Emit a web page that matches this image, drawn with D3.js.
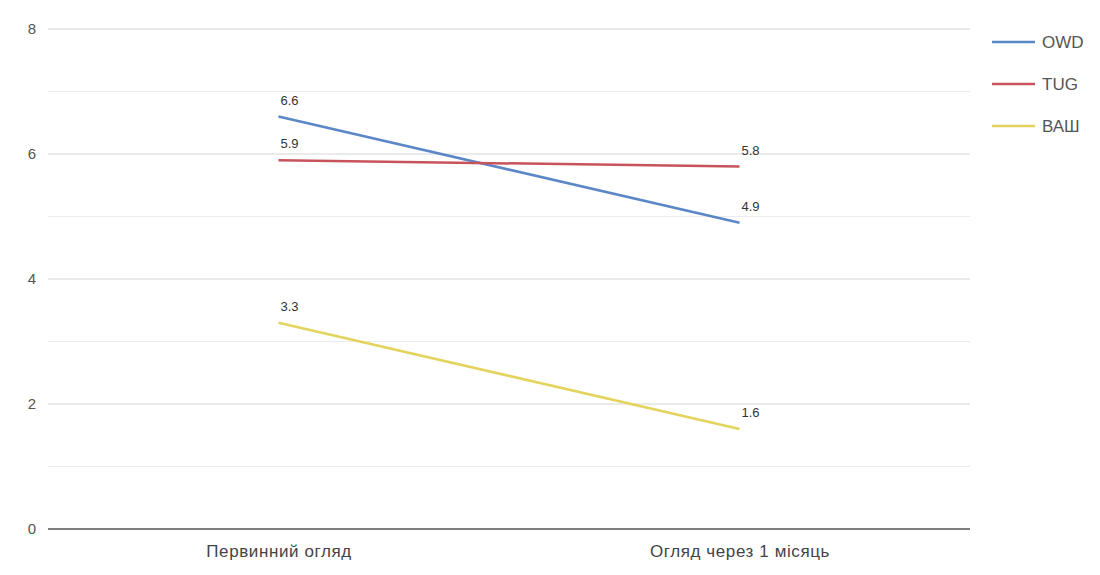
<!DOCTYPE html>
<html>
<head>
  <meta charset="utf-8">
  <script src="https://d3js.org/d3.v7.min.js"></script>
  <style>
    body { margin: 0; background: #fff; font-family: "Liberation Sans", Arial, sans-serif; }
    .y.axis .tick text { fill: #555; font-size: 15px; }
    .x.axis .tick text { fill: #444; font-size: 17px; letter-spacing: 0.6px; }
  </style>
</head>
<body>
  <script>
    // data
    var categories = ["Первинний огляд", "Огляд через 1 місяць"];
    var seriesNames = ["OWD", "TUG", "ВАШ"];
    var owd = [6.6, 4.9];
    var tug = [5.9, 5.8];
    var vash = [3.3, 1.6];
    var yTicks = [0, 2, 4, 6, 8];
    var yGrid = [1, 2, 3, 4, 5, 6, 7, 8];

    var colors = ["#5b87c7", "#c8545b", "#e4d35c"];
    var series = [owd, tug, vash].map(function(v, i) {
      return { name: seriesNames[i], values: v, color: colors[i] };
    });

    var width = 1100, height = 575;
    var plotLeft = 48, plotRight = 970, plotTop = 29, plotBottom = 529;

    var svg = d3.select("body").append("svg")
      .attr("width", width)
      .attr("height", height);

    var x = d3.scalePoint().domain(categories).range([plotLeft, plotRight]).padding(0.5);
    var y = d3.scaleLinear().domain([0, 8]).range([plotBottom, plotTop]);

    // gridlines
    svg.append("g").selectAll("line")
      .data(yGrid)
      .enter().append("line")
      .attr("x1", plotLeft).attr("x2", plotRight)
      .attr("y1", function(d) { return y(d); })
      .attr("y2", function(d) { return y(d); })
      .attr("stroke", function(d) { return d % 2 === 0 ? "#d6d6d6" : "#ececec"; })
      .attr("stroke-width", 1.2);

    // y axis labels
    var yAxis = d3.axisLeft(y).tickValues(yTicks).tickSize(0).tickPadding(12);
    svg.append("g")
      .attr("class", "y axis")
      .attr("transform", "translate(" + plotLeft + ",0)")
      .call(yAxis)
      .call(function(g) { g.select(".domain").remove(); });

    // x axis
    var xAxis = d3.axisBottom(x).tickSize(0).tickPadding(16);
    svg.append("g")
      .attr("class", "x axis")
      .attr("transform", "translate(0," + plotBottom + ")")
      .call(xAxis)
      .call(function(g) {
        g.select(".domain").attr("d", "M" + plotLeft + ",0H" + plotRight).attr("stroke", "#555").attr("stroke-width", 1.5);
      });

    // lines
    var line = d3.line()
      .x(function(d, i) { return x(categories[i]); })
      .y(function(d) { return y(d); });

    svg.append("g").selectAll("path")
      .data(series)
      .enter().append("path")
      .attr("d", function(d) { return line(d.values); })
      .attr("fill", "none")
      .attr("stroke", function(d) { return d.color; })
      .attr("stroke-width", 2.5);

    // value labels
    series.forEach(function(s) {
      svg.append("g").selectAll("text")
        .data(s.values)
        .enter().append("text")
        .attr("x", function(d, i) { return x(categories[i]) + 2; })
        .attr("y", function(d) { return y(d) - 12; })
        .attr("font-size", 13)
        .attr("fill", "#333")
        .text(function(d) { return d.toFixed(1); });
    });

    // legend
    var legend = svg.append("g")
      .attr("transform", "translate(992,42)")
      .selectAll("g")
      .data(series)
      .enter().append("g")
      .attr("transform", function(d, i) { return "translate(0," + i * 42 + ")"; });

    legend.append("line")
      .attr("x1", 0).attr("x2", 43)
      .attr("stroke", function(d) { return d.color; })
      .attr("stroke-width", 2.5);

    legend.append("text")
      .attr("x", 50)
      .attr("y", 6)
      .attr("font-size", 17)
      .attr("fill", "#555")
      .text(function(d) { return d.name; });
  </script>
</body>
</html>
